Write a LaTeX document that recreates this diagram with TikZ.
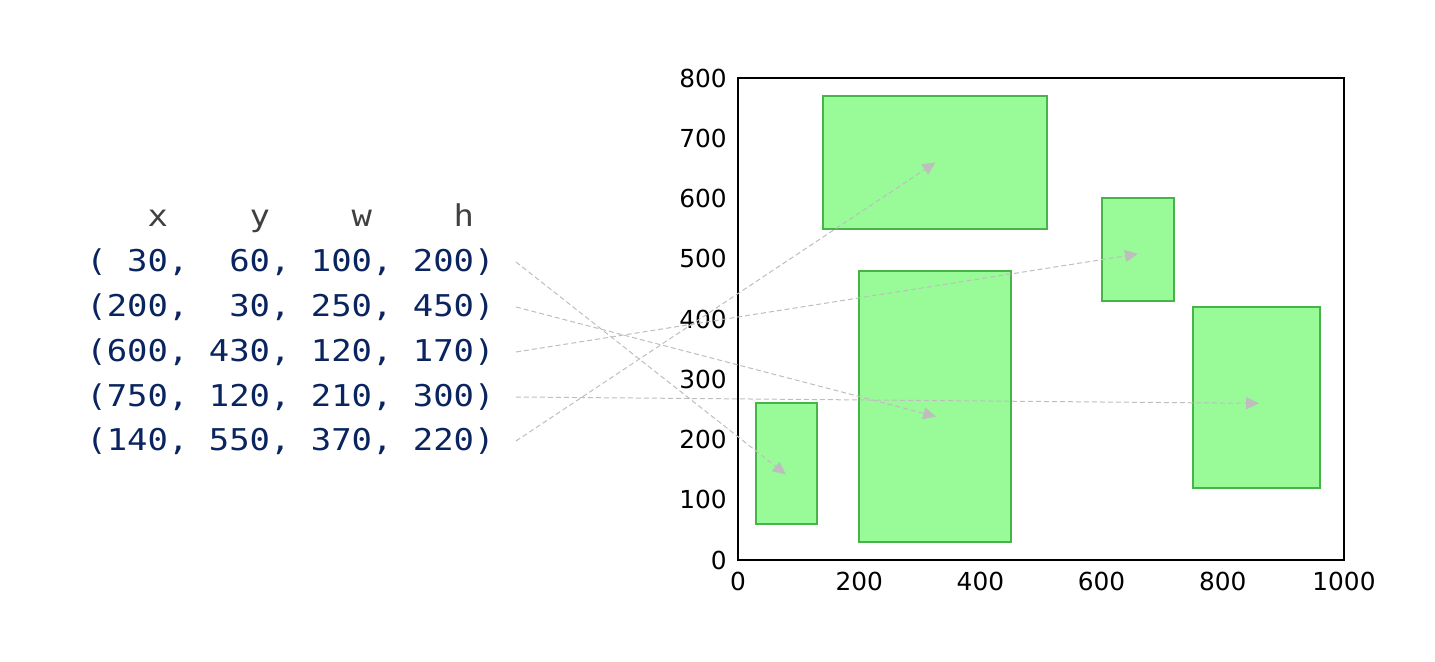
\documentclass[tikz,border=0pt]{standalone}
\usepackage{fontspec}
\usetikzlibrary{arrows.meta}
\newfontfamily\codefont[FakeStretch=1.13]{DejaVu Sans Mono}
\newfontfamily\tickfont{DejaVu Sans}
\definecolor{codeblue}{RGB}{10,36,96}
\definecolor{hdrgray}{RGB}{64,64,64}
\definecolor{boxfill}{RGB}{152,251,152}
\definecolor{boxedge}{RGB}{70,180,70}
\definecolor{arrowgray}{RGB}{190,190,190}
\tikzset{code/.style = {inner sep=0pt, anchor=west, text=codeblue, font=\codefont\fontsize{15pt}{18pt}\selectfont}}
\tikzset{bbox/.style = {draw=boxedge, fill=boxfill, line width=1pt}}
\tikzset{pointer/.style = {draw=arrowgray, line width=0.5pt, dash pattern=on 2.5pt off 1.5pt, -{Triangle[length=6.5pt,width=6pt]}}}
\tikzset{tick/.style = {inner sep=0pt, font=\tickfont\fontsize{12.4pt}{14pt}\selectfont}}

\begin{document}
\begin{tikzpicture}[x=0.5pt, y=-0.5pt]
		% Canvas
		\useasboundingbox (0,0) rectangle (1435,662);

		% Tuples
		\node[code, text=hdrgray] (hdr) at (86,218) {~~~x~~~~y~~~~w~~~~h};
		\node[code] (r1) at (86,262) {(~30,~~60,~100,~200)};
		\node[code] (r2) at (86,307) {(200,~~30,~250,~450)};
		\node[code] (r3) at (86,352) {(600,~430,~120,~170)};
		\node[code] (r4) at (86,397) {(750,~120,~210,~300)};
		\node[code] (r5) at (86,441) {(140,~550,~370,~220)};

		% Plot
		\begin{scope}[shift={(369pt,-280pt)}, x=0.303pt, y=0.30125pt]
			%% Boxes
			\foreach \bx/\by/\bw/\bh in {30/60/100/200, 200/30/250/450, 600/430/120/170, 750/120/210/300, 140/550/370/220}
			{
				\draw[bbox] (\bx,\by) rectangle ++(\bw,\bh);
			}
			%% Frame
			\draw[line width=1pt] (0,0) rectangle (1000,800);
			%% Tick labels
			\foreach \t in {0,200,...,1000}
				\node[tick, anchor=north] (xt\t) at ([yshift=-6pt]\t,0) {\t};
			\foreach \t in {0,100,...,800}
				\node[tick, anchor=east] (yt\t) at ([xshift=-5.5pt]0,\t) {\t};
			%% Arrow ends
			\coordinate (t1) at (79,142);
			\coordinate (t2) at (327,238);
			\coordinate (t3) at (660,508);
			\coordinate (t4) at (860,260);
			\coordinate (t5) at (326,660);
		\end{scope}

		% Pointers
		\foreach \i in {1,...,5}
			\draw[pointer] ([xshift=10.5pt]r\i.east) -- (t\i);
	\end{tikzpicture}
\end{document}
